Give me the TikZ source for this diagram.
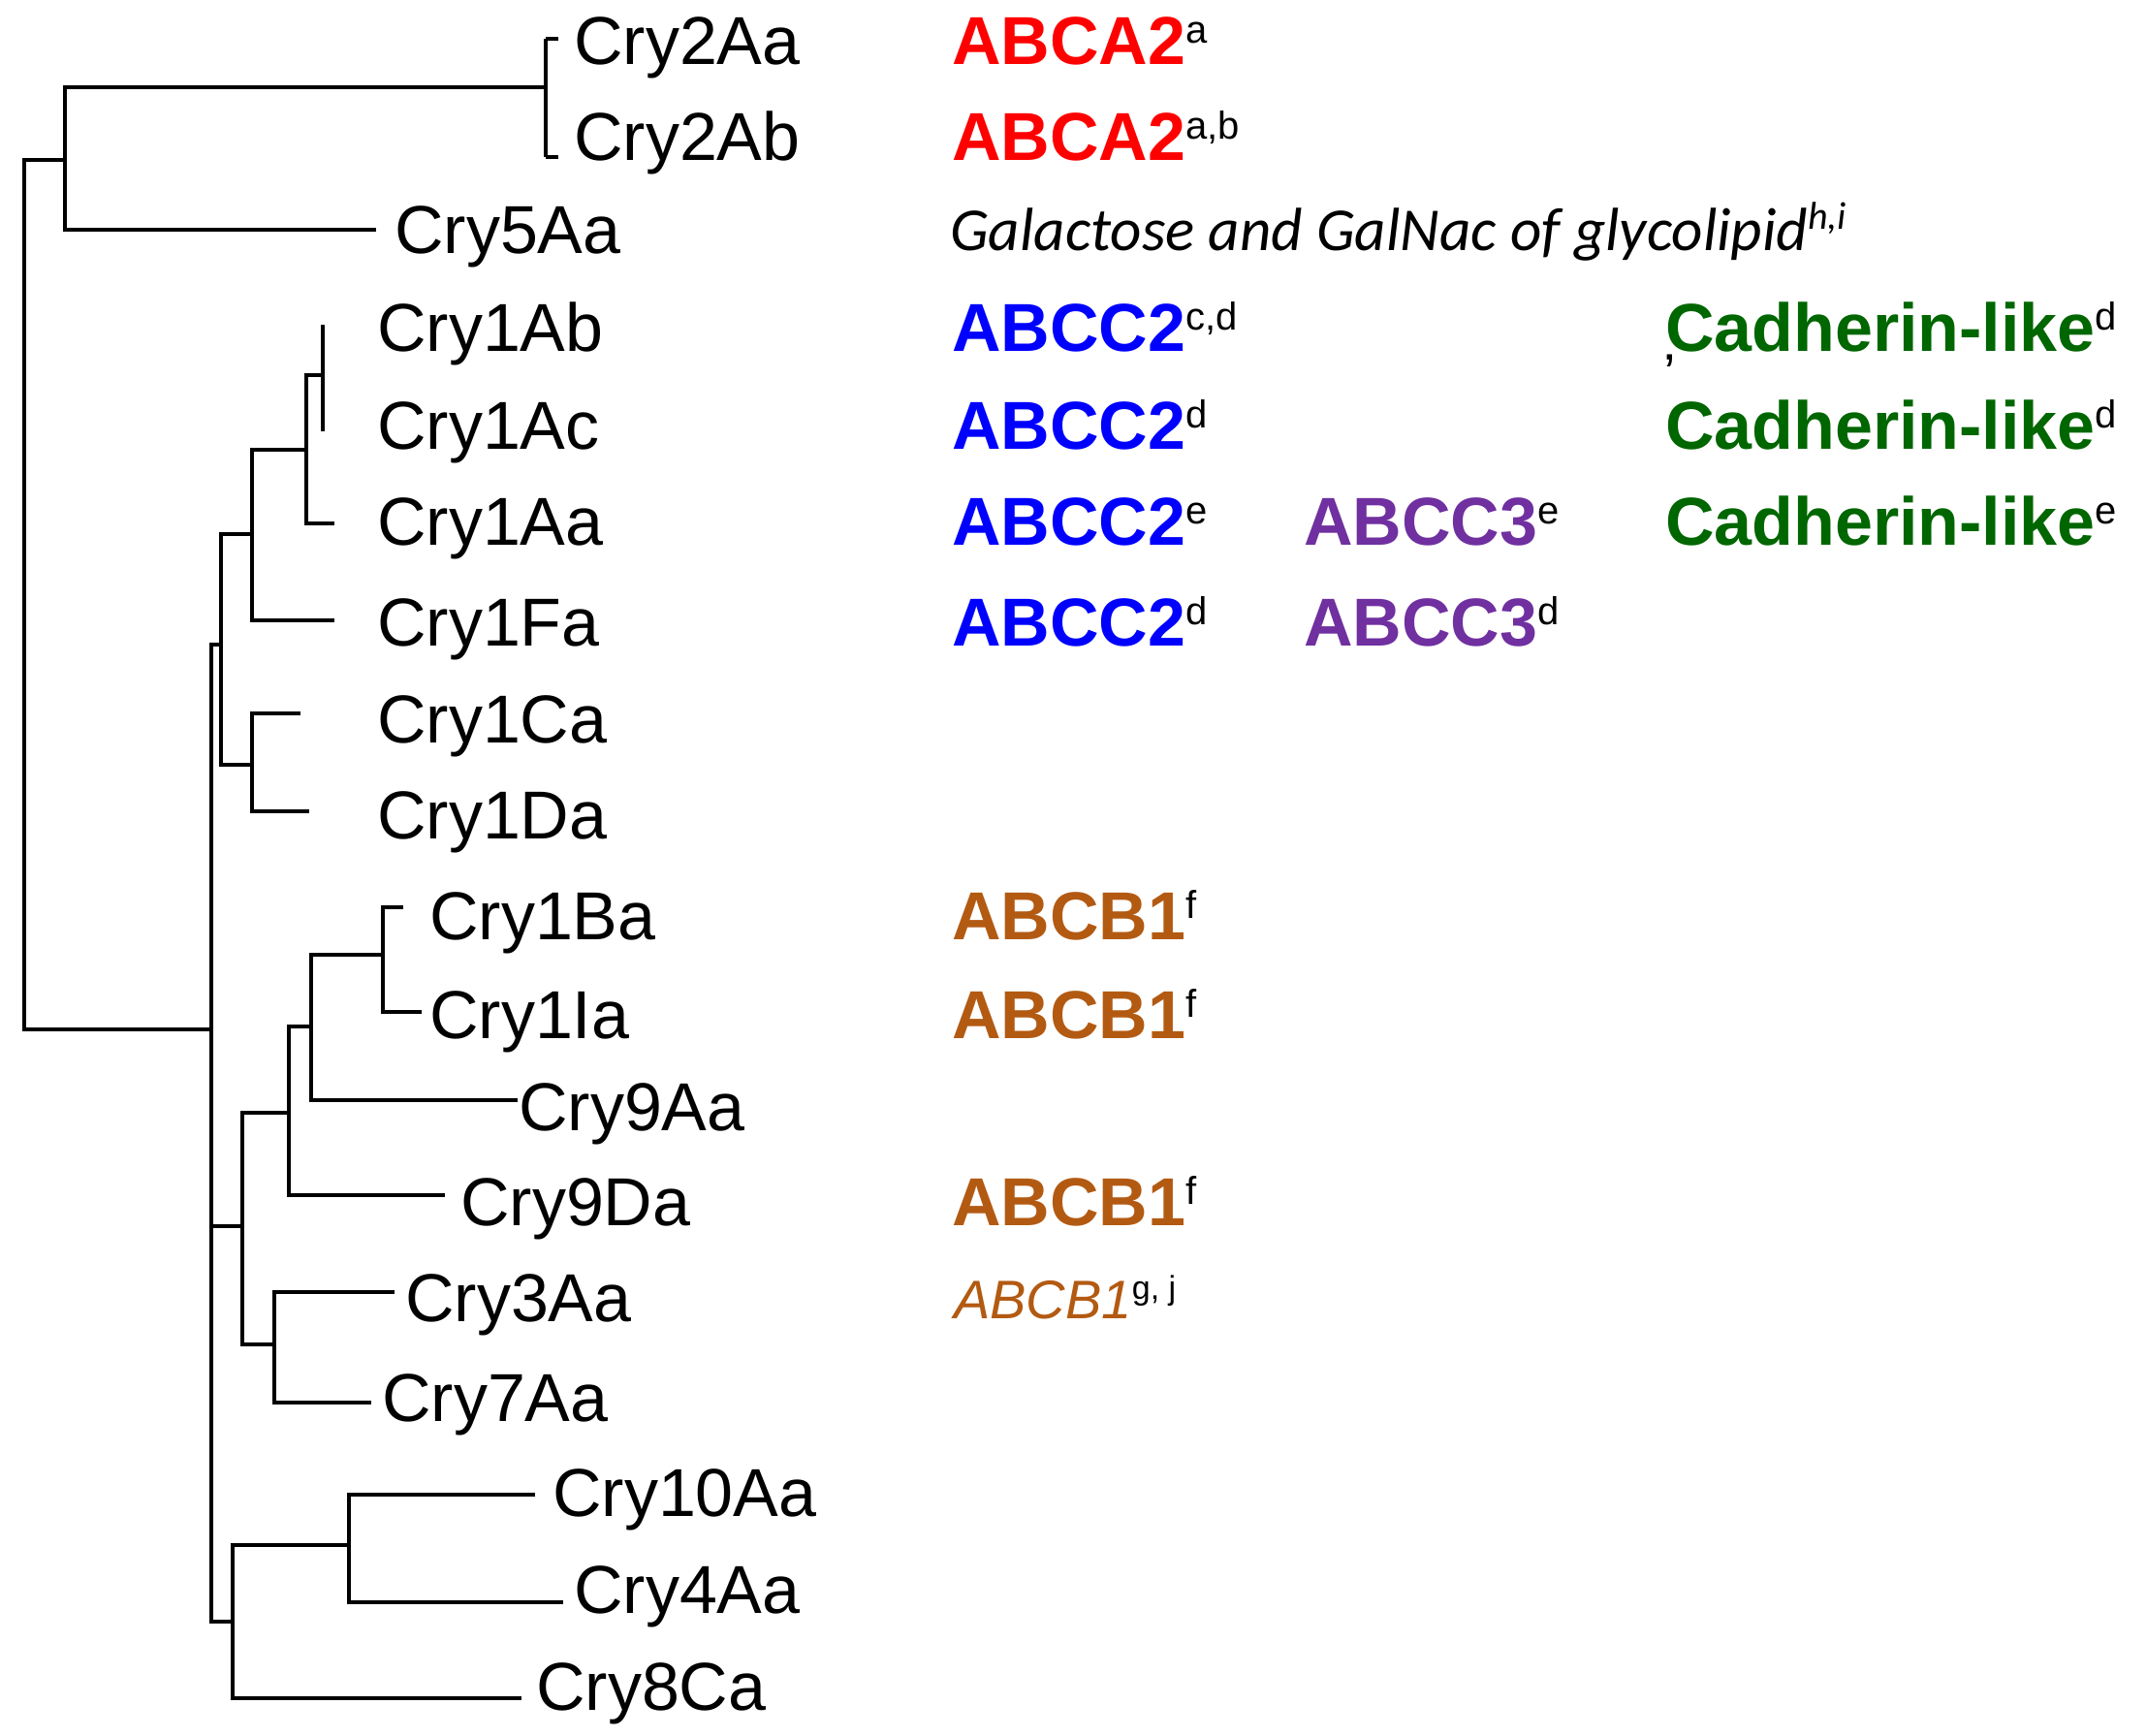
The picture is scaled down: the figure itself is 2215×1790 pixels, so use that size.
\documentclass[tikz,border=0pt]{standalone}
\usepackage{fontspec}
\setmainfont{Liberation Sans}
\newfontfamily\carl{Carlito}
\definecolor{cred}{HTML}{FF0000}
\definecolor{cblue}{HTML}{0000FF}
\definecolor{cpurp}{HTML}{7030A0}
\definecolor{cgreen}{HTML}{006600}
\definecolor{cbrown}{HTML}{B35A12}
\begin{document}
\begin{tikzpicture}[x=1pt,y=-1pt,
  br/.style={line width=4.5pt,line cap=butt},
  lab/.style={anchor=base west,inner sep=0pt,font=\fontsize{70}{80}\selectfont},
  ann/.style={anchor=base west,inner sep=0pt,font=\fontsize{70}{80}\selectfont\bfseries}]
\useasboundingbox (0,0) rectangle (2215,1790);
\newcommand{\sx}[1]{\textcolor{black}{\raisebox{22pt}{\fontsize{40}{44}\selectfont\mdseries #1}}}
% coordinates (leaf tips)
\coordinate (t2Aa) at (576,40); \coordinate (t2Ab) at (576,162);
\coordinate (t5Aa) at (388,237);
\coordinate (t1Ab) at (333,335); \coordinate (t1Ac) at (333,445);
\coordinate (t1Aa) at (345,540); \coordinate (t1Fa) at (345,640);
\coordinate (t1Ca) at (310,736); \coordinate (t1Da) at (319,837);
\coordinate (t1Ba) at (416,936); \coordinate (t1Ia) at (435,1044);
\coordinate (t9Aa) at (534,1135); \coordinate (t9Da) at (459,1233);
\coordinate (t3Aa) at (407,1333); \coordinate (t7Aa) at (383,1447);
\coordinate (t10Aa) at (552,1542); \coordinate (t4Aa) at (581,1653);
\coordinate (t8Ca) at (538,1752);
% branches
\draw[br] (563,40) -- (563,162);
\draw[br] (563,40) -- (t2Aa); \draw[br] (563,162) -- (t2Ab);
\draw[br] (563,90) -- (67,90) -- (67,237) -- (t5Aa);
\draw[br] (67,165) -- (25,165) -- (25,1062) -- (218,1062);
\draw[br] (333,335) -- (333,445);
\draw[br] (333,387) -- (316,387) -- (316,540) -- (t1Aa);
\draw[br] (316,464) -- (260,464) -- (260,640) -- (t1Fa);
\draw[br] (260,551) -- (228,551) -- (228,789) -- (260,789);
\draw[br] (t1Ca) -- (260,736) -- (260,837) -- (t1Da);
\draw[br] (228,665) -- (218,665) -- (218,1673) -- (240,1673);
\draw[br] (t1Ba) -- (395,936) -- (395,1044) -- (t1Ia);
\draw[br] (395,985) -- (321,985) -- (321,1135) -- (t9Aa);
\draw[br] (321,1059) -- (298,1059) -- (298,1233) -- (t9Da);
\draw[br] (298,1148) -- (250,1148) -- (250,1387) -- (283,1387);
\draw[br] (218,1265) -- (250,1265);
\draw[br] (t3Aa) -- (283,1333) -- (283,1447) -- (t7Aa);
\draw[br] (240,1673) -- (240,1594) -- (360,1594);
\draw[br] (240,1673) -- (240,1752) -- (t8Ca);
\draw[br] (t10Aa) -- (360,1542) -- (360,1653) -- (t4Aa);
% labels
\node[lab] (L2Aa) at (592,67) {Cry2Aa};
\node[lab] (L2Ab) at (592,166) {Cry2Ab};
\node[lab] (L5Aa) at (407,261) {Cry5Aa};
\node[lab] (L1Ab) at (389,362) {Cry1Ab};
\node[lab] (L1Ac) at (389,463) {Cry1Ac};
\node[lab] (L1Aa) at (389,562) {Cry1Aa};
\node[lab] (L1Fa) at (389,666) {Cry1Fa};
\node[lab] (L1Ca) at (389,766) {Cry1Ca};
\node[lab] (L1Da) at (389,865) {Cry1Da};
\node[lab] (L1Ba) at (443,969) {Cry1Ba};
\node[lab] (L1Ia) at (443,1071) {Cry1Ia};
\node[lab] (L9Aa) at (535,1166) {Cry9Aa};
\node[lab] (L9Da) at (475,1264) {Cry9Da};
\node[lab] (L3Aa) at (418,1363) {Cry3Aa};
\node[lab] (L7Aa) at (394,1466) {Cry7Aa};
\node[lab] (L10Aa) at (570,1564) {Cry10Aa};
\node[lab] (L4Aa) at (592,1664) {Cry4Aa};
\node[lab] (L8Ca) at (553,1764) {Cry8Ca};
% annotations
\node[ann,text=cred] (a1) at (982,67) {ABCA2\sx{a}};
\node[ann,text=cred] (a2) at (982,166) {ABCA2\sx{a,b}};
\node[anchor=base west,inner sep=0pt,font=\carl\itshape\fontsize{63}{70}\selectfont] (a3) at (980,258) {Galactose and GalNac of glycolipid\raisebox{22pt}{\fontsize{40}{44}\selectfont h,i}};
\node[ann,text=cblue] (b1) at (982,362) {ABCC2\sx{c,d}};
\node[ann,text=cblue] (b2) at (982,463) {ABCC2\sx{d}};
\node[ann,text=cblue] (b3) at (982,562) {ABCC2\sx{e}};
\node[ann,text=cblue] (b4) at (982,666) {ABCC2\sx{d}};
\node[ann,text=cpurp] (c3) at (1345,562) {ABCC3\sx{e}};
\node[ann,text=cpurp] (c4) at (1345,666) {ABCC3\sx{d}};
\node[ann,text=cgreen] (g1) at (1718,362) {Cadherin-like\sx{d}};
\node[anchor=base west,inner sep=0pt,font=\fontsize{56}{60}\selectfont] (ap) at (1716,404) {’};
\node[ann,text=cgreen] (g2) at (1718,463) {Cadherin-like\sx{d}};
\node[ann,text=cgreen] (g3) at (1718,562) {Cadherin-like\sx{e}};
\node[ann,text=cbrown] (r1) at (982,969) {ABCB1\sx{f}};
\node[ann,text=cbrown] (r2) at (982,1071) {ABCB1\sx{f}};
\node[ann,text=cbrown] (r3) at (982,1264) {ABCB1\sx{f}};
\node[anchor=base west,inner sep=0pt,text=cbrown,font=\itshape\fontsize{56}{60}\selectfont] (r4) at (984,1360) {ABCB1\textcolor{black}{\raisebox{20pt}{\upshape\fontsize{34}{38}\selectfont g, j}}};
\end{tikzpicture}
\end{document}
